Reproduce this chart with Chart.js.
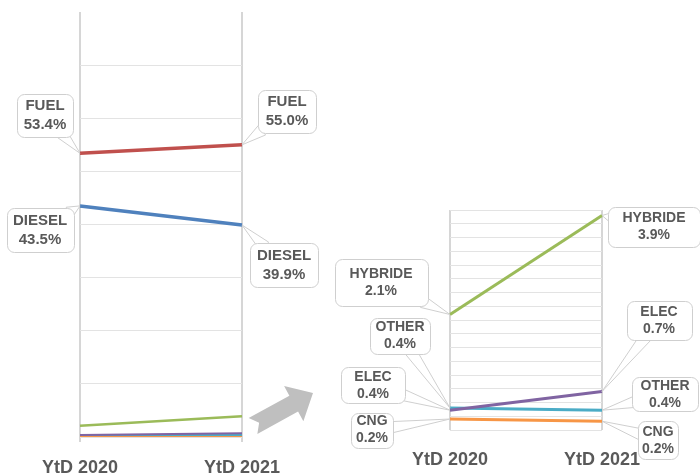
<!DOCTYPE html>
<html>
<head>
<meta charset="utf-8">
<script src="https://cdn.jsdelivr.net/npm/chart.js@4.4.1/dist/chart.umd.min.js"></script>
<style>
    html, body { margin: 0; padding: 0; background: #fff; }
    #wrap { position: relative; width: 700px; height: 476px; }
    canvas { position: absolute; left: 0; top: 0; }
</style>
</head>
<body>
<div id="wrap">
    <canvas id="left" width="700" height="476"></canvas>
    <canvas id="right" width="700" height="476"></canvas>
</div>
<script>
const years = ["YtD 2020", "YtD 2021"];
const seriesNames = ["FUEL", "DIESEL", "HYBRIDE", "ELEC", "OTHER", "CNG"];
const fuel = [53.4, 55.0];
const diesel = [43.5, 39.9];
const hybride = [2.1, 3.9];
const elec = [0.36, 0.70];
const other = [0.40, 0.36];
const cng = [0.20, 0.16];

const colors = {
    FUEL: "#c0504d",
    DIESEL: "#4f81bd",
    HYBRIDE: "#9bbb59",
    ELEC: "#8064a2",
    OTHER: "#4bacc6",
    CNG: "#f79646",
};
const FONT = "'Liberation Sans', Arial, sans-serif";
const TEXT = "#595959";

// callout boxes: offset of box centre from the point, box size
const leftCallouts = [
    { ds: 0, i: 0, dx: -35, dy: -38, w: 56, h: 43 },
    { ds: 0, i: 1, dx: 45, dy: -33, w: 58, h: 43 },
    { ds: 1, i: 0, dx: -40, dy: 24, w: 67, h: 44 },
    { ds: 1, i: 1, dx: 42, dy: 40, w: 68, h: 44 },
];
const rightCallouts = [
    { ds: 0, i: 0, dx: -69, dy: -32, w: 93, h: 47 },
    { ds: 0, i: 1, dx: 52, dy: 11, w: 92, h: 40 },
    { ds: 1, i: 0, dx: -77, dy: -25, w: 64, h: 36 },
    { ds: 1, i: 1, dx: 57, dy: -71, w: 65, h: 39 },
    { ds: 2, i: 0, dx: -50, dy: -72, w: 60, h: 36 },
    { ds: 2, i: 1, dx: 63, dy: -16, w: 66, h: 34 },
    { ds: 3, i: 0, dx: -78, dy: 11, w: 42, h: 35 },
    { ds: 3, i: 1, dx: 56, dy: 19, w: 40, h: 38 },
];

const calloutPlugin = {
    id: "callouts",
    afterDatasetsDraw(chart, args, opts) {
        const ctx = chart.ctx;
        ctx.save();
        opts.items.forEach((it) => {
            const ds = chart.data.datasets[it.ds];
            const pt = chart.getDatasetMeta(it.ds).data[it.i];
            const px = pt.x, py = pt.y;
            const cx = px + it.dx, cy = py + it.dy;
            const vx = px - cx, vy = py - cy;
            const len = Math.hypot(vx, vy);
            const t = Math.min(it.w / 2 / Math.abs(vx || 1e-6), it.h / 2 / Math.abs(vy || 1e-6));
            const ex = cx + vx * t - (vx / len) * 5;
            const ey = cy + vy * t - (vy / len) * 5;
            const nx = -vy / len, ny = vx / len;
            const bw = 6;

            ctx.lineWidth = 1;
            ctx.strokeStyle = "#cfcfcf";
            ctx.fillStyle = "#fff";
            ctx.beginPath();
            ctx.moveTo(ex + nx * bw, ey + ny * bw);
            ctx.lineTo(px, py);
            ctx.lineTo(ex - nx * bw, ey - ny * bw);
            ctx.closePath();
            ctx.fill();
            ctx.stroke();

            ctx.beginPath();
            ctx.roundRect(Math.round(cx - it.w / 2) + 0.5, Math.round(cy - it.h / 2) + 0.5, it.w, it.h, 7);
            ctx.fill();
            ctx.stroke();

            ctx.fillStyle = TEXT;
            ctx.font = "bold " + opts.size + "px " + FONT;
            ctx.textAlign = "center";
            ctx.textBaseline = "middle";
            const gap = opts.gap / 2;
            ctx.fillText(ds.label, cx, cy - gap);
            ctx.fillText(ds.data[it.i].toFixed(1) + "%", cx, cy + gap);
        });
        ctx.restore();
    },
};

const arrowPlugin = {
    id: "arrow",
    afterDraw(chart) {
        const ctx = chart.ctx;
        const sx = 253, sy = 426, tx = 313, ty = 393;
        const L = Math.hypot(tx - sx, ty - sy);
        const ux = (tx - sx) / L, uy = (ty - sy) / L;
        const nx = -uy, ny = ux;
        const p = (a, b) => [sx + ux * a + nx * b, sy + uy * a + ny * b];
        const pts = [p(0, -9), p(L - 22, -9), p(L - 22, -20), p(L, 0), p(L - 22, 20), p(L - 22, 9), p(0, 9), p(7, 0)];
        ctx.save();
        ctx.fillStyle = "#bfbfbf";
        ctx.beginPath();
        pts.forEach((q, k) => (k ? ctx.lineTo(q[0], q[1]) : ctx.moveTo(q[0], q[1])));
        ctx.closePath();
        ctx.fill();
        ctx.restore();
    },
};

function makeDataset(name, data, width) {
    return {
        label: name,
        data: data,
        borderColor: colors[name],
        backgroundColor: colors[name],
        borderWidth: width,
        pointRadius: 0,
        tension: 0,
    };
}

function makeOptions(pad, yMax, yStep, xHeight, tickLen, tickPad, hideTop) {
    return {
        responsive: false,
        animation: false,
        layout: { padding: pad },
        plugins: { legend: { display: false }, tooltip: { enabled: false } },
        scales: {
            x: {
                type: "category",
                offset: false,
                border: { display: false },
                grid: {
                    color: "#d6d6d6",
                    lineWidth: 2,
                    drawTicks: tickLen > 0,
                    tickLength: tickLen,
                },
                ticks: {
                    color: TEXT,
                    font: { family: FONT, size: 18, weight: "bold" },
                    padding: tickPad,
                    maxRotation: 0,
                    autoSkip: false,
                },
                afterFit: (s) => { s.height = xHeight; },
            },
            y: {
                min: 0,
                max: yMax,
                border: { display: false },
                grid: {
                    drawTicks: false,
                    color: (c) => (hideTop && c.tick && c.tick.value === yMax ? "rgba(0,0,0,0)" : "#e3e3e3"),
                },
                ticks: { display: false, stepSize: yStep },
            },
        },
    };
}

const leftOpts = makeOptions({ left: 80, right: 458, top: 12, bottom: 0 }, 80, 10, 39, 5, 15, true);
leftOpts.plugins.callouts = { items: leftCallouts, size: 15, gap: 19 };

new Chart(document.getElementById("left"), {
    type: "line",
    data: {
        labels: years,
        datasets: [
            makeDataset("FUEL", fuel, 3.5),
            makeDataset("DIESEL", diesel, 3.5),
            makeDataset("HYBRIDE", hybride, 2.5),
            makeDataset("ELEC", elec, 2),
            makeDataset("OTHER", other, 2),
            makeDataset("CNG", cng, 2.5),
        ],
    },
    options: leftOpts,
    plugins: [calloutPlugin, arrowPlugin],
});

const rightOpts = makeOptions({ left: 450, right: 98, top: 210, bottom: 0 }, 4, 0.25, 46, 0, 19, false);
rightOpts.plugins.callouts = { items: rightCallouts, size: 14, gap: 17 };

new Chart(document.getElementById("right"), {
    type: "line",
    data: {
        labels: years,
        datasets: [
            makeDataset("HYBRIDE", hybride, 3),
            makeDataset("ELEC", elec, 3),
            makeDataset("OTHER", other, 3),
            makeDataset("CNG", cng, 3),
        ],
    },
    options: rightOpts,
    plugins: [calloutPlugin],
});
</script>
</body>
</html>
